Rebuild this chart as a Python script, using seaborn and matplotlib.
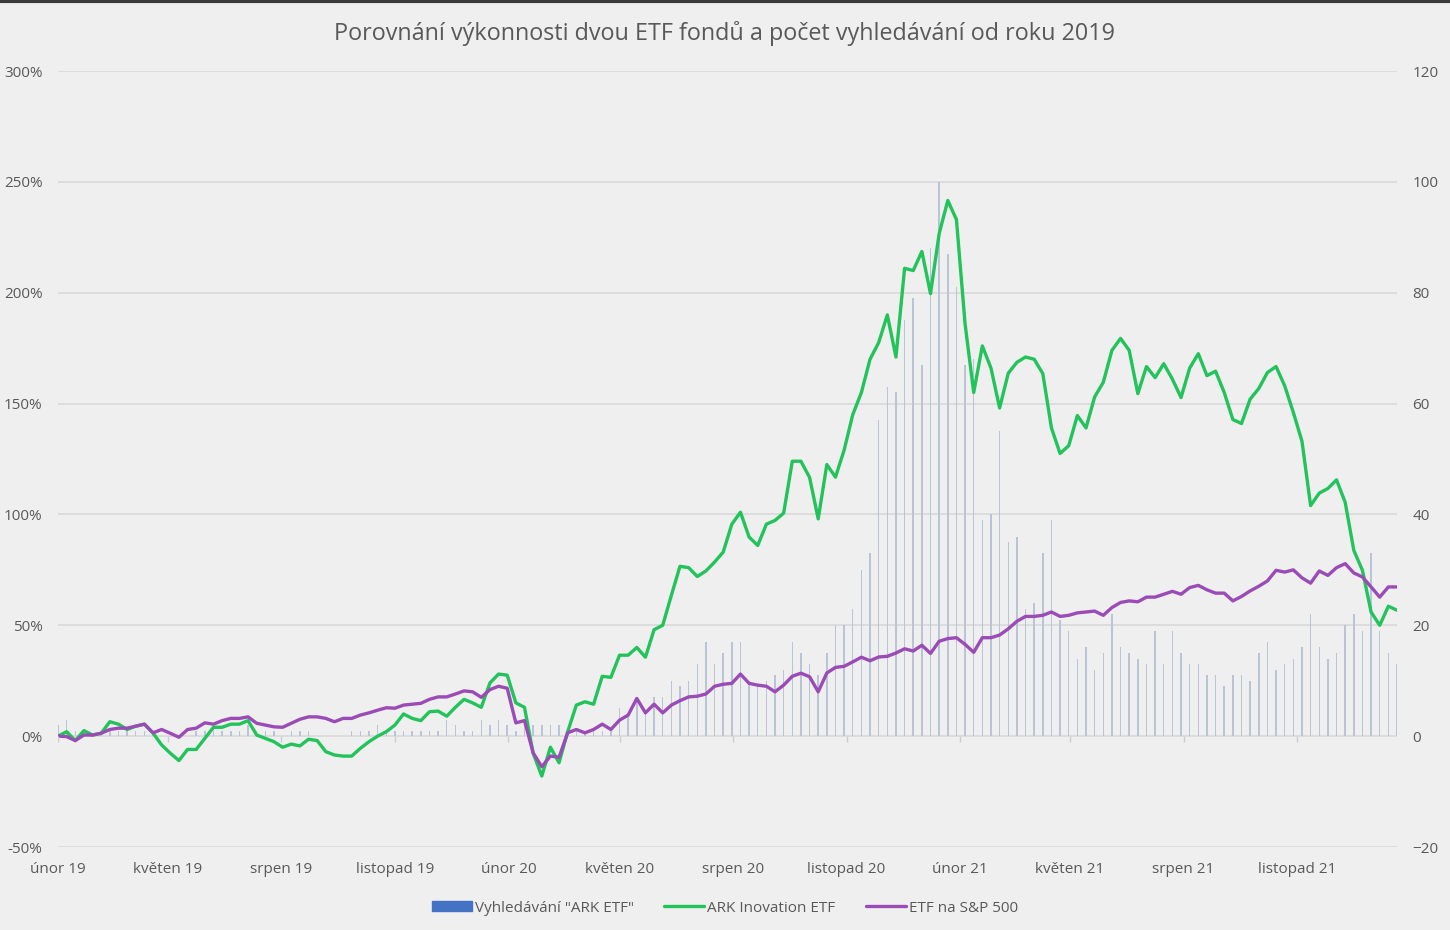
import numpy as np
import pandas as pd
import matplotlib
matplotlib.use("Agg")
import matplotlib.pyplot as plt
import matplotlib.dates as mdates
import seaborn as sns
from matplotlib.patches import Patch
from matplotlib.lines import Line2D

# weekly data, Feb 2019 - Jan 2022
dates = pd.date_range("2019-02-01", periods=156, freq="7D")

# ARK Innovation ETF, % change since start
ark = [0, 2, -2, 2.5, 0.5, 1.3, 6.5, 5.4, 3, 4.5,
       5.4, 1.4, -4, -7.7, -11, -6, -6, -1, 4, 4,
       5.4, 5.4, 7, 0.5, -1, -2.5, -5, -3.6, -4.4, -1.4,
       -2, -7, -8.5, -9, -9, -5.5, -2.5, 0, 2, 5,
       10, 8, 7, 11, 11.3, 9, 13, 16.6, 15, 13,
       24, 28, 27.5, 15, 13, -7.7, -18, -5, -12, 2,
       14, 15.5, 14.4, 27, 26.5, 36.5, 36.5, 40, 35.6, 48,
       50, 63.5, 76.6, 76, 72, 74.5, 78.5, 83, 95.6, 101,
       89.8, 86, 95.6, 97.3, 100.6, 124, 124, 116.7, 98, 122.5,
       116.8, 129, 145, 155, 170, 177.5, 190, 171, 211, 210,
       218.6, 199.6, 226.6, 241.6, 233, 186, 155, 176, 166, 148,
       163.7, 168.6, 171, 170, 163.5, 139, 127.5, 131, 144.6, 139,
       153, 159.6, 174, 179.4, 174, 154.5, 166.7, 161.7, 168, 161,
       152.7, 166, 172.5, 162.6, 164.6, 155, 142.8, 141, 152, 156.8,
       164, 166.7, 158, 146, 133, 104, 109.6, 111.7, 115.6, 105.5,
       83.8, 74.8, 56, 50, 58.6, 56.8]

# S&P 500 ETF, % change since start
spy = [0, -0.2, -2, 0.5, 0.5, 1.3, 3, 3.6, 3.6, 4.5,
       5.4, 1.5, 3, 1.3, -0.5, 3, 3.6, 6, 5.4, 7,
       8, 8, 8.7, 5.8, 5, 4.2, 4, 5.8, 7.6, 8.7,
       8.7, 8, 6.5, 8, 8, 9.5, 10.5, 11.7, 12.8, 12.6,
       14, 14.4, 14.8, 16.6, 17.7, 17.7, 19, 20.4, 20, 17.5,
       21, 22.5, 21.6, 6, 7, -7.5, -13.8, -9, -9.5, 1.5,
       3, 1.5, 3, 5.4, 3, 7.2, 9.5, 17, 10.5, 14.4,
       10.5, 14, 16, 17.7, 18, 19, 22.5, 23.4, 23.8, 28,
       23.8, 23, 22.5, 20, 23, 27, 28.4, 26.8, 20, 28.5,
       31, 31.5, 33.5, 35.6, 34, 35.7, 36, 37.5, 39.4, 38.4,
       41, 37.3, 42.8, 44, 44.4, 41.4, 37.8, 44.4, 44.4, 45.6,
       48.4, 51.8, 54, 54, 54.5, 56, 54, 54.5, 55.6, 56,
       56.4, 54.5, 58, 60.3, 61, 60.6, 62.7, 62.7, 64, 65.3,
       64, 67, 68, 66, 64.5, 64.5, 61, 63, 65.5, 67.6,
       70, 74.8, 74, 75, 71.4, 69, 74.5, 72.5, 76, 77.8,
       73.6, 71.8, 67.3, 62.7, 67.3, 67.3]

# Google searches "ARK ETF" (right axis)
searches = [2, 3, 1, 1, 0, 1, 1, 1, 1, 1,
            1, 1, 0, 0, 0, 0, 1, 1, 1, 1,
            1, 1, 2, 1, 1, 1, 0, 1, 1, 1,
            0, 0, 0, 0, 1, 1, 1, 2, 1, 1,
            1, 1, 1, 1, 1, 3, 2, 1, 1, 3,
            2, 3, 2, 1, 2, 2, 2, 2, 2, 1,
            1, 1, 1, 1, 1, 5, 4, 7, 4, 7,
            7, 10, 9, 10, 13, 17, 13, 15, 17, 17,
            10, 9, 10, 11, 12, 17, 15, 13, 11, 15,
            20, 20, 23, 30, 33, 57, 63, 62, 75, 79,
            67, 88, 100, 87, 81, 67, 68, 39, 40, 55,
            35, 36, 23, 24, 33, 39, 21, 19, 14, 16,
            12, 15, 22, 16, 15, 14, 13, 19, 13, 19,
            15, 13, 13, 11, 11, 9, 11, 11, 10, 15,
            17, 12, 13, 14, 16, 22, 16, 14, 15, 20,
            22, 19, 33, 19, 15, 13]

tick_dates = pd.date_range("2019-02-01", periods=12, freq="3MS")
tick_labels = ["únor 19", "květen 19", "srpen 19", "listopad 19",
               "únor 20", "květen 20", "srpen 20", "listopad 20",
               "únor 21", "květen 21", "srpen 21", "listopad 21"]

left_ticks = [-50, 0, 50, 100, 150, 200, 250, 300]
right_ticks = [-20, 0, 20, 40, 60, 80, 100, 120]

bg = "#efefef"
grid_c = "#d9d9d9"
text_c = "#595959"
green = "#22c35a"
purple = "#9a4bb5"
bar_c = "#b9c4d9"
bar_legend_c = "#4472c4"

sns.set_theme(style="white")
plt.rcParams["font.family"] = ["Open Sans", "DejaVu Sans"]

x = mdates.date2num(dates)
xt = mdates.date2num(tick_dates)

fig = plt.figure(figsize=(14.5, 9.3), dpi=100, facecolor=bg)
ax = fig.add_axes([58 / 1450, 1 - 847 / 930, (1397 - 58) / 1450, (847 - 71) / 930])
ax2 = ax.twinx()

# bars on the secondary axis, drawn behind the lines
sns.barplot(x=x, y=searches, native_scale=True, ax=ax2, color=bar_c,
            width=0.17, linewidth=0, errorbar=None, saturation=1)
ax2.set_ylim(-20, 120)
ax2.set_yticks(right_ticks)
ax2.yaxis.grid(True, color=grid_c, linewidth=1.2)
ax2.set_axisbelow(True)
ax2.set_facecolor(bg)

sns.lineplot(x=x, y=ark, ax=ax, color=green, linewidth=2.4)
sns.lineplot(x=x, y=spy, ax=ax, color=purple, linewidth=2.4)
ax.set_ylim(-50, 300)
ax.set_yticks(left_ticks)
ax.set_yticklabels([f"{v}%" for v in left_ticks])
ax.set_zorder(ax2.get_zorder() + 1)
ax.patch.set_visible(False)

# small tick marks on the zero line
ax.vlines(xt, -2.6, 0, color="#c8cdd6", linewidth=1)

ax.set_xlim(x[0], x[-1])
ax.set_xticks(xt)
ax.set_xticklabels(tick_labels)
ax.set_xlabel("")
ax.set_ylabel("")
ax2.set_ylabel("")
ax.grid(False)

for a in (ax, ax2):
    for s in a.spines.values():
        s.set_visible(False)
ax.tick_params(axis="x", length=0, pad=11, labelsize=11, colors=text_c)
ax.tick_params(axis="y", length=0, pad=11, labelsize=11, colors=text_c)
ax2.tick_params(axis="y", length=0, pad=11, labelsize=11, colors=text_c)

fig.text(0.5, 1 - 33 / 930, "Porovnání výkonnosti dvou ETF fondů a počet vyhledávání od roku 2019",
         ha="center", va="center", fontsize=16.8, color=text_c)

handles = [Patch(color=bar_legend_c),
           Line2D([], [], color=green, linewidth=2.4),
           Line2D([], [], color=purple, linewidth=2.4)]
labels = ['Vyhledávání "ARK ETF"', "ARK Inovation ETF", "ETF na S&P 500"]
fig.legend(handles, labels, loc="center", bbox_to_anchor=(0.5, 1 - 908 / 930), ncol=3,
           frameon=False, fontsize=11, labelcolor=text_c, handlelength=2.6,
           handleheight=0.6, handletextpad=0.2, columnspacing=2.0)

fig.add_artist(Line2D([0, 1], [0.999, 0.999], color="#3a3a3a", linewidth=3,
                      transform=fig.transFigure))

fig.savefig("out.png", dpi=100, facecolor=bg)
